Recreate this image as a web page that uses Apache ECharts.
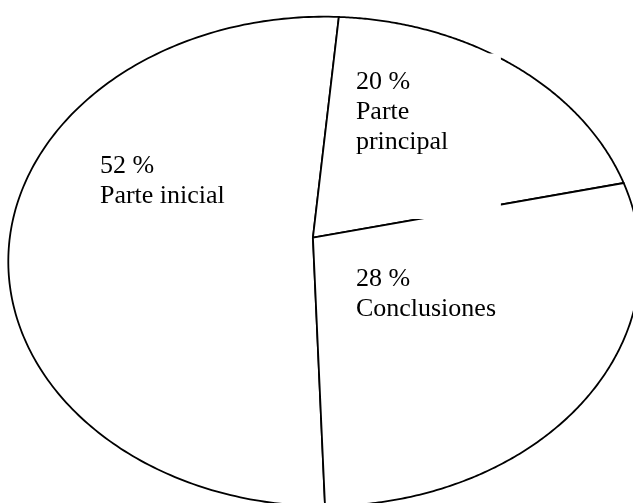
<!DOCTYPE html>
<html>
<head>
<meta charset="utf-8">
<script src="https://cdn.jsdelivr.net/npm/echarts@6/dist/echarts.min.js"></script>
<style>
  html, body { margin: 0; padding: 0; background: #fff; }
  #chart { width: 633px; height: 503px; }
</style>
</head>
<body>
<div id="chart"></div>
<script>
// ---- data ----
const categories = ['Parte inicial', 'Parte principal', 'Conclusiones'];
const percentages = [52, 20, 28];

// ---- layout / style (not data) ----
const START_ANGLE = 272;            // pie start angle (deg), slices go clockwise
const PIE_CENTER = [-0.036, 0.097]; // pie centre inside the unit ellipse
const labelLayout = [
  { x: -0.710, y: 0.450, width: 220, padding: [0, 0, 0, 0], bg: null },
  { x: 0.100, y: 0.8496, width: 120, padding: [13.5, 25, 62, 0], bg: '#fff' },
  { x: 0.100, y: -0.011, width: 220, padding: [0, 0, 0, 0], bg: null }
];

const total = percentages.reduce((a, b) => a + b, 0);
const cumulative = percentages.map((v, i) => percentages.slice(0, i).reduce((a, b) => a + b, 0));

function rayHit(thetaDeg) {
  const t0 = thetaDeg * Math.PI / 180;
  const dx = Math.cos(t0), dy = Math.sin(t0);
  const cx = PIE_CENTER[0], cy = PIE_CENTER[1];
  const b = cx * dx + cy * dy;
  const c = cx * cx + cy * cy - 1;
  const t = -b + Math.sqrt(b * b - c);
  return [cx + t * dx, cy + t * dy];
}

function renderItem(params, api) {
  const i = params.dataIndex;
  const a1 = START_ANGLE - 360 * cumulative[i] / total;
  const a2 = a1 - 360 * percentages[i] / total;
  const p1 = rayHit(a1), p2 = rayHit(a2);
  let phi1 = Math.atan2(p1[1], p1[0]);
  let phi2 = Math.atan2(p2[1], p2[0]);
  while (phi2 > phi1) phi2 -= 2 * Math.PI;
  while (phi1 - phi2 > 2 * Math.PI) phi2 += 2 * Math.PI;
  const pts = [api.coord(PIE_CENTER), api.coord(p1)];
  const N = 200;
  for (let k = 1; k < N; k++) {
    const ph = phi1 + (phi2 - phi1) * k / N;
    pts.push(api.coord([Math.cos(ph), Math.sin(ph)]));
  }
  pts.push(api.coord(p2));

  const L = labelLayout[i];
  const lp = api.coord([L.x, L.y]);
  const textStyle = {
    text: percentages[i] + ' %\n' + categories[i],
    fill: '#000',
    font: '26px Liberation Serif, DejaVu Serif, serif',
    lineHeight: 30,
    width: L.width,
    overflow: 'break',
    align: 'left',
    verticalAlign: 'top',
    padding: L.padding
  };
  if (L.bg) textStyle.backgroundColor = L.bg;

  return {
    type: 'group',
    children: [
      {
        type: 'polygon',
        shape: { points: pts },
        style: { fill: '#fff', stroke: '#000', lineWidth: 1.8 },
        z2: i
      },
      {
        type: 'text',
        x: lp[0],
        y: lp[1],
        style: textStyle,
        z2: 100
      }
    ]
  };
}

const chart = echarts.init(document.getElementById('chart'), null, { renderer: 'canvas' });
chart.setOption({
  animation: false,
  backgroundColor: '#fff',
  grid: { left: 8.3, top: 16.7, width: 632, height: 489.4, outerBoundsMode: 'none', containLabel: false },
  xAxis: { type: 'value', min: -1, max: 1, show: false },
  yAxis: { type: 'value', min: -1, max: 1, show: false },
  series: [{
    type: 'custom',
    name: 'Partes',
    clip: false,
    renderItem: renderItem,
    data: percentages.map((v, i) => ({ name: categories[i], value: [0, 0, v] }))
  }]
});
</script>
</body>
</html>
